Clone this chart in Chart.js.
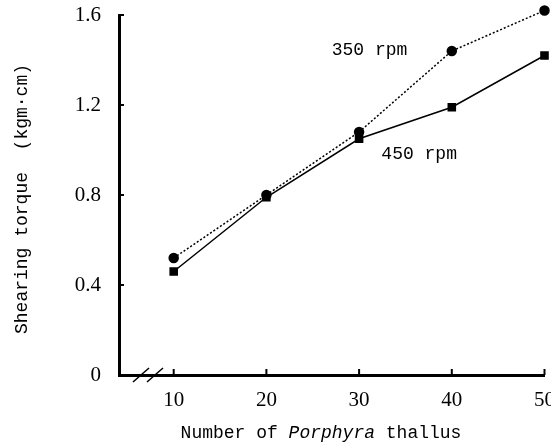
<!DOCTYPE html>
<html>
<head>
<meta charset="utf-8">
<script src="https://cdn.jsdelivr.net/npm/chart.js@4"></script>
<style>
  html, body { margin: 0; padding: 0; background: #fff; }
  #wrap { width: 551px; height: 445px; }
</style>
</head>
<body>
<div id="wrap"><canvas id="torque"></canvas></div>
<script>
// values
const thallus = [10, 20, 30, 40, 50];
const torque350 = [0.52, 0.80, 1.08, 1.44, 1.62];
const torque450 = [0.46, 0.79, 1.05, 1.19, 1.42];
const xTicks = [10, 20, 30, 40, 50];
const yTicks = [0, 0.4, 0.8, 1.2, 1.6];
const seriesNames = ['350 rpm', '450 rpm'];

const monoFont = '"Liberation Mono", "DejaVu Sans Mono", monospace';
const digitFont = '"Liberation Serif", "DejaVu Serif", serif';

// no label padding, the frame sits where the figure has it
function noPad(scale) {
    scale.paddingTop = 0;
    scale.paddingBottom = 0;
    scale.paddingLeft = 0;
    scale.paddingRight = 0;
}

// inward tick marks, axis break and text labels
const decorations = {
    id: 'decorations',
    afterDraw(chart) {
        const ctx = chart.ctx;
        const xs = chart.scales.x;
        const ys = chart.scales.y;
        const area = chart.chartArea;
        ctx.save();
        ctx.strokeStyle = '#000';
        ctx.lineWidth = 2;
        xs.ticks.forEach(t => {
            const px = xs.getPixelForValue(t.value);
            ctx.beginPath();
            ctx.moveTo(px, area.bottom);
            ctx.lineTo(px, area.bottom - 6);
            ctx.stroke();
        });
        ys.ticks.forEach(t => {
            const py = ys.getPixelForValue(t.value);
            ctx.beginPath();
            ctx.moveTo(area.left, py);
            ctx.lineTo(area.left + 5, py);
            ctx.stroke();
        });

        // axis break  //
        ctx.lineWidth = 1.5;
        [133, 147].forEach(x0 => {
            ctx.beginPath();
            ctx.moveTo(x0, area.bottom + 7);
            ctx.lineTo(x0 + 16, area.bottom - 7);
            ctx.stroke();
        });

        // series labels
        ctx.fillStyle = '#000';
        ctx.font = '18px ' + monoFont;
        ctx.textBaseline = 'middle';
        ctx.textAlign = 'left';
        ctx.fillText(seriesNames[0], xs.getPixelForValue(27.05), ys.getPixelForValue(1.445));
        ctx.fillText(seriesNames[1], xs.getPixelForValue(32.4), ys.getPixelForValue(0.98));

        // x title with italic genus name
        const parts = [['Number of ', ''], ['Porphyra', 'italic '], [' thallus', '']];
        let total = 0;
        parts.forEach(p => {
            ctx.font = p[1] + '18px ' + monoFont;
            total += ctx.measureText(p[0]).width;
        });
        let x = 321 - total / 2;
        parts.forEach(p => {
            ctx.font = p[1] + '18px ' + monoFont;
            ctx.fillText(p[0], x, 433);
            x += ctx.measureText(p[0]).width;
        });

        // y title
        ctx.translate(22, 199);
        ctx.rotate(-Math.PI / 2);
        ctx.textAlign = 'center';
        ctx.font = '18px ' + monoFont;
        ctx.fillText('Shearing torque  (kgm\u00b7cm)', 0, 0);
        ctx.restore();
    }
};

const ctx = document.getElementById('torque').getContext('2d');
new Chart(ctx, {
    type: 'line',
    data: {
        datasets: [
            {
                label: seriesNames[0],
                data: thallus.map((v, i) => ({x: v, y: torque350[i]})),
                borderColor: '#000',
                backgroundColor: '#000',
                borderWidth: 1.5,
                borderDash: [2, 2],
                pointStyle: 'circle',
                pointRadius: 4.5,
                tension: 0,
                clip: false
            },
            {
                label: seriesNames[1],
                data: thallus.map((v, i) => ({x: v, y: torque450[i]})),
                borderColor: '#000',
                backgroundColor: '#000',
                borderWidth: 1.5,
                pointStyle: 'rect',
                pointRadius: 5,
                tension: 0,
                clip: false
            }
        ]
    },
    options: {
        responsive: true,
        maintainAspectRatio: false,
        animation: false,
        layout: { padding: { top: 15, right: 3, left: 0, bottom: 0 } },
        plugins: {
            legend: { display: false },
            tooltip: { enabled: false }
        },
        scales: {
            x: {
                type: 'linear',
                min: 4.1,
                max: 50,
                afterBuildTicks: scale => { scale.ticks = xTicks.map(v => ({value: v})); },
                afterFit: scale => { scale.height = 70; noPad(scale); },
                grid: { drawOnChartArea: false, drawTicks: false },
                border: { display: true, color: '#000', width: 3 },
                ticks: {
                    padding: 13,
                    color: '#000',
                    font: { family: digitFont, size: 21 },
                    callback: v => String(v)
                }
            },
            y: {
                type: 'linear',
                min: 0,
                max: 1.6,
                afterBuildTicks: scale => { scale.ticks = yTicks.map(v => ({value: v})); },
                afterFit: scale => { scale.width = 119; noPad(scale); },
                grid: { drawOnChartArea: false, drawTicks: false },
                border: { display: true, color: '#000', width: 3 },
                ticks: {
                    padding: 18,
                    color: '#000',
                    font: { family: digitFont, size: 21 },
                    callback: v => v === 0 ? '0' : v.toFixed(1)
                }
            }
        }
    },
    plugins: [decorations]
});
</script>
</body>
</html>
